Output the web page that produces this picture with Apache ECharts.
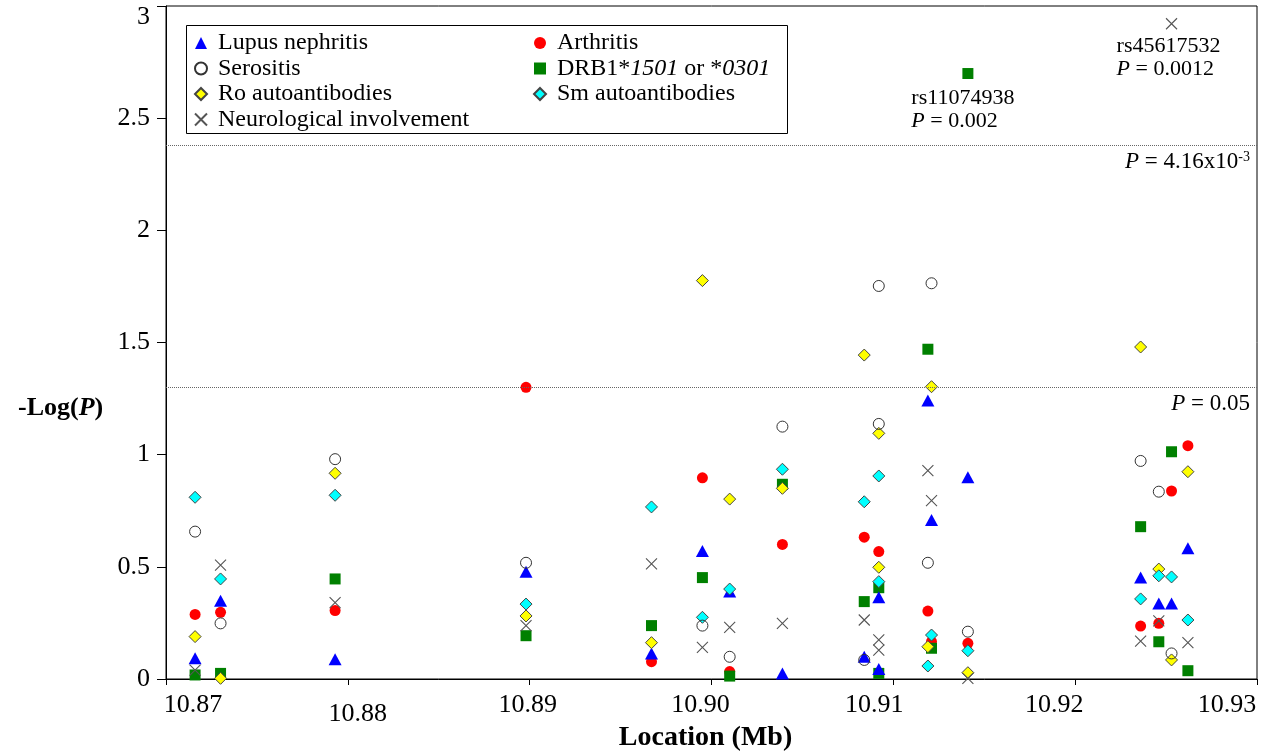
<!DOCTYPE html>
<html>
<head>
<meta charset="utf-8">
<script src="https://cdn.jsdelivr.net/npm/echarts@6/dist/echarts.min.js"></script>
<style>
  html, body { margin: 0; padding: 0; background: #fff; }
  #chart { width: 1267px; height: 754px; }
</style>
</head>
<body>
<div id="chart"></div>
<script>
// SNP location (Mb) and -log10(P) for each phenotype
const lupusNephritis = [[10.8716,0.092],[10.8730,0.349],[10.8793,0.088],[10.8898,0.478],[10.8967,0.114],[10.8995,0.571],[10.9010,0.39],[10.9039,0.025],[10.9084,0.099],[10.9092,0.364],[10.9092,0.045],[10.9119,1.241],[10.9121,0.709],[10.9141,0.899],[10.9236,0.453],[10.9246,0.337],[10.9253,0.337],[10.9262,0.583]];
const arthritis = [[10.8716,0.288],[10.8730,0.297],[10.8793,0.305],[10.8898,1.30],[10.8967,0.077],[10.8995,0.897],[10.9010,0.033],[10.9039,0.60],[10.9084,0.632],[10.9092,0.568],[10.9119,0.303],[10.9121,0.166],[10.9141,0.159],[10.9236,0.236],[10.9246,0.248],[10.9253,0.838],[10.9262,1.04]];
const serositis = [[10.8716,0.657],[10.8730,0.248],[10.8793,0.98],[10.8898,0.518],[10.8995,0.238],[10.9010,0.099],[10.9039,1.125],[10.9084,0.085],[10.9092,1.752],[10.9092,1.137],[10.9119,0.518],[10.9121,1.764],[10.9141,0.211],[10.9236,0.972],[10.9246,0.835],[10.9253,0.114]];
const drb1 = [[10.8716,0.018],[10.8730,0.025],[10.8793,0.446],[10.8898,0.193],[10.8967,0.238],[10.8995,0.452],[10.9010,0.013],[10.9039,0.868],[10.9084,0.345],[10.9092,0.407],[10.9092,0.025],[10.9119,1.47],[10.9121,0.137],[10.9236,0.679],[10.9246,0.166],[10.9253,1.013],[10.9262,0.037]];
const roAutoantibodies = [[10.8716,0.189],[10.8730,0.003],[10.8793,0.917],[10.8898,0.281],[10.8967,0.162],[10.8995,1.776],[10.9010,0.802],[10.9039,0.85],[10.9084,1.444],[10.9092,1.095],[10.9092,0.498],[10.9119,0.144],[10.9121,1.303],[10.9141,0.028],[10.9236,1.48],[10.9246,0.49],[10.9253,0.085],[10.9262,0.924]];
const smAutoantibodies = [[10.8716,0.81],[10.8730,0.446],[10.8793,0.819],[10.8898,0.334],[10.8967,0.767],[10.8995,0.275],[10.9010,0.401],[10.9039,0.935],[10.9084,0.79],[10.9092,0.905],[10.9092,0.434],[10.9119,0.058],[10.9121,0.196],[10.9141,0.126],[10.9236,0.357],[10.9246,0.46],[10.9253,0.455],[10.9262,0.263]];
const neurological = [[10.8716,0.04],[10.8730,0.508],[10.8793,0.34],[10.8898,0.238],[10.8967,0.513],[10.8995,0.141],[10.9010,0.23],[10.9039,0.248],[10.9084,0.263],[10.9092,0.174],[10.9092,0.129],[10.9119,0.929],[10.9121,0.795],[10.9141,0.003],[10.9236,0.169],[10.9246,0.259],[10.9262,0.162]];

// Strongest associations, plotted from their P values
const topHits = [
  { snp: 'rs11074938', trait: 'drb1', loc: 10.9141, p: 0.002, pText: '0.002' },
  { snp: 'rs45617532', trait: 'neuro', loc: 10.9253, p: 0.0012, pText: '0.0012' }
];

// Significance thresholds
const thresholds = [
  { p: 0.00416, text: '{i|P}{n| = 4.16x10}{sup|-3}' },
  { p: 0.05, text: '{i|P}{n| = 0.05}' }
];

// Axis ranges and tick steps
const xRange = [10.87, 10.93];
const xStep = 0.01;
const yRange = [0, 3];
const yStep = 0.5;

const FONT = 'Liberation Serif';
const nLog = p => -Math.log10(p);

// hand-set label nudges along the location axis (dx, dy in px)
const xLabelNudge = [[27, 0], [10, 9], [-2, 0], [-11, 0], [-19, 0], [-21, 0], [-30, 0]];
const xRich = {};
xLabelNudge.forEach(([dx, dy], i) => {
  xRich['t' + i] = {
    fontFamily: FONT, fontSize: 26, color: '#000',
    padding: [dy, dx < 0 ? -2 * dx : 0, 0, dx > 0 ? 2 * dx : 0]
  };
});

const textRich = {
  n: { fontFamily: FONT, fontSize: 22, color: '#000', lineHeight: 23, align: 'left' },
  i: { fontFamily: FONT, fontSize: 22, color: '#000', lineHeight: 23, fontStyle: 'italic', align: 'left' }
};

function withHits(points, trait) {
  const data = points.map(v => ({ value: v }));
  topHits.filter(h => h.trait === trait).forEach(h => {
    data.push({
      value: [h.loc, nLog(h.p)],
      label: {
        show: true, position: 'bottom', distance: trait === 'drb1' ? 8 : 5,
        offset: [trait === 'drb1' ? -5 : -3, 0],
        formatter: '{n|' + h.snp + '}\n{i|P}{n| = ' + h.pText + '}',
        rich: textRich
      }
    });
  });
  return data;
}

const names = {
  lupus: 'Lupus nephritis',
  arth: 'Arthritis',
  sero: 'Serositis',
  drb1: 'DRB1*1501 or *0301',
  ro: 'Ro autoantibodies',
  sm: 'Sm autoantibodies',
  neuro: 'Neurological involvement'
};

const crossPath = 'path://M0,0L10,10M10,0L0,10';

const series = [
  { name: names.arth, data: withHits(arthritis, 'arth'), symbol: 'circle', symbolSize: 11,
    itemStyle: { color: '#ff0000' } },
  { name: names.drb1, data: withHits(drb1, 'drb1'), symbol: 'rect', symbolSize: 11,
    itemStyle: { color: '#008000' } },
  { name: names.lupus, data: withHits(lupusNephritis, 'lupus'), symbol: 'triangle', symbolSize: [13, 12],
    itemStyle: { color: '#0000ff' } },
  { name: names.ro, data: withHits(roAutoantibodies, 'ro'), symbol: 'diamond', symbolSize: 12,
    itemStyle: { color: '#ffff00', borderColor: '#444', borderWidth: 1 } },
  { name: names.sm, data: withHits(smAutoantibodies, 'sm'), symbol: 'diamond', symbolSize: 12,
    itemStyle: { color: '#00ffff', borderColor: '#444', borderWidth: 1 } },
  { name: names.sero, data: withHits(serositis, 'sero'), symbol: 'circle', symbolSize: 11,
    itemStyle: { color: 'rgba(255,255,255,0)', borderColor: '#333', borderWidth: 1 } },
  { name: names.neuro, data: withHits(neurological, 'neuro'), symbol: crossPath, symbolSize: 11,
    itemStyle: { color: 'rgba(255,255,255,0)', borderColor: '#555', borderWidth: 1.1 } }
].map(s => {
  s.itemStyle.opacity = 1;
  return Object.assign({ type: 'scatter', emphasis: { disabled: true }, animation: false }, s);
});

// threshold lines
series.push({
  type: 'scatter', data: [], silent: true, animation: false,
  markLine: {
    silent: true, symbol: 'none', animation: false,
    lineStyle: { type: [1, 1], color: '#666', width: 1, opacity: 1 },
    data: thresholds.map(t => ({
      yAxis: nLog(t.p),
      label: {
        show: true, position: 'insideEndBottom', distance: [7, 5],
        formatter: t.text,
        rich: {
          n: { fontFamily: FONT, fontSize: 23, color: '#000' },
          i: { fontFamily: FONT, fontSize: 23, color: '#000', fontStyle: 'italic' },
          sup: { fontFamily: FONT, fontSize: 14, color: '#000', verticalAlign: 'top' }
        }
      }
    }))
  }
});

const legendCommon = {
  orient: 'vertical', top: 31, padding: 0, itemGap: 1.5,
  itemWidth: 12, itemHeight: 12,
  textStyle: {
    fontFamily: FONT, fontSize: 24, color: '#000', lineHeight: 24, padding: [0, 0, 0, 6],
    rich: {
      n: { fontFamily: FONT, fontSize: 24, color: '#000' },
      i: { fontFamily: FONT, fontSize: 24, color: '#000', fontStyle: 'italic' }
    }
  },
  formatter: name => name === names.drb1 ? '{n|DRB1*}{i|1501}{n| or *}{i|0301}' : name,
  selectedMode: false
};

const chart = echarts.init(document.getElementById('chart'), null, { renderer: 'canvas' });
chart.setOption({
  backgroundColor: '#fff',
  animation: false,
  grid: {
    left: 166, right: 10, top: 6, bottom: 75,
    outerBoundsMode: 'none', containLabel: false,
    show: true, borderColor: '#000', borderWidth: 1
  },
  xAxis: {
    type: 'value', min: xRange[0], max: xRange[1], interval: xStep,
    name: 'Location (Mb)', nameLocation: 'middle', nameGap: 45, nameMoveOverlap: false,
    nameTextStyle: { fontFamily: FONT, fontSize: 28, fontWeight: 'bold', color: '#000', padding: [0, 12, 0, 0] },
    axisLine: { show: true, lineStyle: { color: '#000', width: 1 } },
    axisTick: { show: true, inside: false, length: 6, lineStyle: { color: '#000' } },
    splitLine: { show: false },
    axisLabel: {
      margin: 13, color: '#000',
      formatter: (v, i) => '{t' + i + '|' + v.toFixed(2) + '}',
      rich: xRich
    }
  },
  yAxis: {
    type: 'value', min: yRange[0], max: yRange[1], interval: yStep,
    axisLine: { show: true, lineStyle: { color: '#000', width: 1 } },
    axisTick: { show: true, inside: false, length: 9, lineStyle: { color: '#000' } },
    splitLine: { show: false },
    axisLabel: {
      margin: 16, color: '#000',
      formatter: v => v === yRange[1] ? '{top|' + v + '}' : '{t|' + v + '}',
      rich: {
        t: { fontFamily: FONT, fontSize: 26, color: '#000' },
        top: { fontFamily: FONT, fontSize: 26, color: '#000', padding: [22, 0, 0, 0] }
      }
    }
  },
  legend: [
    Object.assign({}, legendCommon, { left: 194, data: [names.lupus, names.sero, names.ro, names.neuro] }),
    Object.assign({}, legendCommon, { left: 533, data: [names.arth, names.drb1, names.sm] })
  ],
  graphic: [
    {
      type: 'rect', z: 0, silent: true,
      shape: { x: 186.5, y: 25.5, width: 601, height: 108 },
      style: { fill: '#fff', stroke: '#000', lineWidth: 1 }
    },
    {
      type: 'text', silent: true, left: 18, top: 395,
      style: {
        text: '{b|-Log(}{bi|P}{b|)}',
        rich: {
          b: { fontFamily: FONT, fontSize: 26, fontWeight: 'bold', fill: '#000' },
          bi: { fontFamily: FONT, fontSize: 26, fontWeight: 'bold', fontStyle: 'italic', fill: '#000' }
        }
      }
    }
  ],
  series: series
});
</script>
</body>
</html>
